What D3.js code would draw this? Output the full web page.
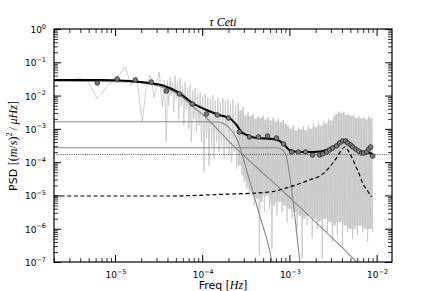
<!DOCTYPE html>
<html><head><meta charset="utf-8">
<script src="https://cdn.jsdelivr.net/npm/d3@7"></script>
<style>body{margin:0;background:#fff}</style>
</head><body>
<svg id="c" width="436" height="291"></svg>
<script>
// ---------- data ----------
const titleText = "τ Ceti";
const xMajor = [1e-5, 1e-4, 1e-3, 1e-2];
const xMajorExp = ["-5", "-4", "-3", "-2"];
const yMajor = [1, 1e-1, 1e-2, 1e-3, 1e-4, 1e-5, 1e-6, 1e-7];
const yMajorExp = ["0", "-1", "-2", "-3", "-4", "-5", "-6", "-7"];

// raw spectrum, low-frequency (sparse) part
const sparseFreq = [3.60e-6, 4.81e-6, 6.27e-6, 8.16e-6, 1.06e-5, 1.31e-5, 1.54e-5, 1.76e-5, 2.06e-5, 2.29e-5, 2.54e-5, 2.82e-5, 3.06e-5, 3.22e-5, 3.49e-5, 3.68e-5, 3.88e-5];
const sparsePSD = [3.37e-2, 2.94e-2, 7.89e-3, 1.94e-2, 3.37e-2, 7.22e-2, 1.94e-2, 3.61e-2, 1.72e-3, 1.94e-2, 4.15e-2, 8.46e-3, 2.94e-2, 5.11e-2, 4.54e-3, 2.94e-2, 4.03e-4];
// raw spectrum, dense part: alternating peaks / dips (log10 PSD) over this frequency span
const denseSpan = [4.0e-5, 9.0e-3];
const densePeakLog = [-1.55,-1.45,-1.62,-1.40,-1.58,-1.48,-1.70,-1.60,-1.75,-1.68,-1.85,-1.78,-1.95,-1.90,-2.00,-1.95,-2.05,-2.10,-1.98,-2.15,
  -2.05,-2.20,-2.08,-2.15,-2.10,-2.25,-2.12,-2.30,-2.20,-2.45,-2.35,-2.60,-2.50,-2.62,-2.55,-2.70,-2.62,-2.68,-2.60,-2.72,
  -2.64,-2.75,-2.66,-2.78,-2.70,-2.80,-2.74,-2.85,-2.90,-3.00,-2.88,-3.05,-2.95,-3.02,-2.92,-3.05,-2.90,-3.00,-2.85,-2.95,
  -2.80,-2.92,-2.78,-2.85,-2.70,-2.75,-2.62,-2.55,-2.48,-2.52,-2.50,-2.58,-2.55,-2.62,-2.58,-2.68,-2.62,-2.70,-2.65,-2.72,-2.62,-2.68];
const denseDipLog = [-2.3,-2.0,-2.5,-2.1,-2.7,-2.3,-2.9,-2.4,-3.0,-3.4,-2.7,-3.1,-2.9,-3.4,-4.3,-3.3,-4.1,-3.5,-3.9,-3.4,
  -3.7,-3.5,-3.9,-3.6,-3.8,-4.0,-3.7,-4.2,-4.1,-4.4,-4.6,-4.8,-5.0,-4.9,-5.3,-5.1,-6.8,-5.2,-5.5,-5.0,
  -5.4,-6.6,-5.3,-5.6,-5.2,-5.5,-5.3,-5.8,-5.4,-5.7,-5.5,-6.0,-5.6,-6.9,-5.7,-5.9,-5.6,-6.3,-5.7,-6.0,
  -5.8,-6.9,-5.7,-6.1,-5.8,-6.4,-5.9,-6.2,-5.8,-6.5,-5.9,-6.1,-6.0,-6.3,-6.0,-6.2,-5.9,-6.1,-6.0,-6.4,-6.0,-6.1];
const denseFilledFrom = 28; // index from which the trace is dense enough to look solid

// binned spectrum
const binFreq = [6.27e-6, 1.06e-5, 1.71e-5, 2.61e-5, 3.88e-5, 5.47e-5, 7.71e-5, 1.12e-4, 1.49e-4, 2.00e-4, 2.67e-4, 3.48e-4, 4.42e-4, 5.61e-4, 7.11e-4, 8.55e-4,
  1.06e-3, 1.27e-3, 1.53e-3, 1.84e-3, 2.22e-3, 2.40e-3, 2.67e-3, 2.89e-3, 3.12e-3, 3.47e-3, 3.76e-3, 4.07e-3, 4.41e-3, 4.65e-3, 5.03e-3, 5.31e-3, 5.74e-3, 6.21e-3, 6.73e-3, 7.10e-3, 7.68e-3, 8.10e-3, 8.54e-3, 9.0e-3];
const binPSD = [2.39e-2, 3.15e-2, 2.94e-2, 2.56e-2, 1.37e-2, 1.12e-2, 5.58e-3, 2.80e-3, 2.61e-3, 2.12e-3, 8.05e-4, 5.70e-4, 5.70e-4, 6.11e-4, 5.32e-4, 3.51e-4,
  2.02e-4, 2.02e-4, 2.02e-4, 1.64e-4, 1.64e-4, 1.76e-4, 2.02e-4, 2.32e-4, 2.66e-4, 3.06e-4, 3.77e-4, 4.32e-4, 4.32e-4, 3.77e-4, 3.28e-4, 2.85e-4, 2.48e-4, 2.16e-4, 1.88e-4, 1.88e-4, 2.02e-4, 2.48e-4, 2.85e-4, 1.53e-4];

// total fitted model
const totalFreq = [2.0e-6, 6.6e-6, 1.46e-5, 2.48e-5, 3.68e-5, 5.47e-5, 7.71e-5, 1.12e-4, 1.57e-4, 2.05e-4, 2.47e-4, 2.82e-4, 3.22e-4, 4.19e-4, 6.40e-4, 7.70e-4, 8.79e-4, 1.00e-3, 1.31e-3, 1.94e-3, 2.67e-3, 3.30e-3, 3.86e-3, 4.30e-3, 4.77e-3, 5.45e-3, 6.38e-3, 7.48e-3, 9.0e-3];
const totalPSD = [2.94e-2, 2.94e-2, 2.74e-2, 2.39e-2, 1.94e-2, 1.20e-2, 5.98e-3, 3.69e-3, 2.61e-3, 2.12e-3, 1.31e-3, 8.05e-4, 6.55e-4, 5.32e-4, 4.97e-4, 4.32e-4, 3.28e-4, 2.32e-4, 2.02e-4, 2.02e-4, 2.32e-4, 3.06e-4, 4.04e-4, 4.64e-4, 4.04e-4, 2.85e-4, 2.16e-4, 2.02e-4, 1.76e-4];

// granulation components
const harvey1Freq = [2.0e-6, 1.46e-5, 2.48e-5, 3.68e-5, 5.47e-5, 7.71e-5, 1.12e-4, 1.57e-4, 2.22e-4, 3.22e-4, 4.54e-4, 7.70e-4, 1.31e-3, 2.22e-3, 3.76e-3, 5.74e-3, 6.73e-3];
const harvey1PSD = [2.74e-2, 2.56e-2, 2.23e-2, 1.69e-2, 1.04e-2, 4.86e-3, 2.12e-3, 8.6e-4, 3.28e-4, 1.33e-4, 5.81e-5, 1.67e-5, 4.50e-6, 1.21e-6, 3.25e-7, 1.07e-7, 7.1e-8];
const harvey2Freq = [2.0e-6, 9.29e-5, 1.46e-4, 1.71e-4, 2.05e-4, 2.47e-4, 2.82e-4, 3.22e-4, 4.54e-4, 6.25e-4, 6.6e-4];
const harvey2PSD = [1.64e-3, 1.64e-3, 1.61e-3, 1.50e-3, 1.06e-3, 5.32e-4, 2.02e-4, 5.81e-5, 2.59e-6, 1.15e-7, 5e-8];
const harvey3Freq = [2.0e-6, 7.33e-4, 8.34e-4, 9.27e-4, 1.00e-3, 1.15e-3, 1.31e-3, 1.36e-3];
const harvey3PSD = [2.72e-4, 2.72e-4, 2.32e-4, 1.43e-4, 4.5e-5, 2.6e-6, 1.15e-7, 5e-8];
// white noise level
const whiteFreq = [2.0e-6, 1.5e-2];
const whitePSD = [1.7e-4, 1.7e-4];
// oscillation envelope
const oscFreq = [2.0e-6, 4.2e-5, 1.57e-4, 5.93e-4, 1.00e-3, 1.70e-3, 2.22e-3, 2.67e-3, 3.12e-3, 3.47e-3, 3.96e-3, 4.30e-3, 4.65e-3, 5.17e-3, 5.74e-3, 6.38e-3, 6.90e-3, 7.88e-3, 8.77e-3];
const oscPSD = [9.62e-6, 9.62e-6, 1.07e-5, 1.27e-5, 1.79e-5, 2.91e-5, 3.84e-5, 5.6e-5, 9.2e-5, 1.35e-4, 2.35e-4, 2.85e-4, 2.32e-4, 1.43e-4, 7.67e-5, 4.11e-5, 2.37e-5, 1.36e-5, 8.98e-6];

// ---------- drawing ----------
const L = 54, R = 392, T = 29, B = 262;
const svg = d3.select("#c");
const x = d3.scaleLog().domain([2e-6, 1.5e-2]).range([L, R]);
const y = d3.scaleLog().domain([1e-7, 1]).range([B, T]);

svg.append("defs").append("clipPath").attr("id", "clip")
  .append("rect").attr("x", L).attr("y", T).attr("width", R - L).attr("height", B - T);
const plot = svg.append("g").attr("clip-path", "url(#clip)");

const zip = (fs, ps) => fs.map((f, i) => [f, ps[i]]);
const line = d3.line().x(d => x(d[0])).y(d => y(d[1]));
const mono = d3.line().x(d => x(d[0])).y(d => y(d[1])).curve(d3.curveMonotoneX);

// raw spectrum
const spec = zip(sparseFreq, sparsePSD);
const n = densePeakLog.length, nv = 2 * n;
const lf0 = Math.log10(denseSpan[0]), lf1 = Math.log10(denseSpan[1]);
const fAt = j => Math.pow(10, lf0 + j * (lf1 - lf0) / (nv - 1));
for (let j = 0; j < nv; j++) {
  const v = j % 2 === 0 ? densePeakLog[j >> 1] : denseDipLog[j >> 1];
  spec.push([fAt(j), Math.pow(10, v)]);
}
// solid core of the dense part (isolated deep dips are left to the trace)
const core = [];
for (let i = denseFilledFrom; i < n; i++) {
  const lo = Math.max(denseDipLog[Math.max(i - 1, 0)], denseDipLog[i], denseDipLog[Math.min(i + 1, n - 1)]);
  core.push({f: fAt(2 * i), hi: Math.pow(10, densePeakLog[i]), lo: Math.pow(10, lo)});
  core.push({f: fAt(2 * i + 1), hi: Math.pow(10, Math.min(densePeakLog[i], densePeakLog[Math.min(i + 1, n - 1)])), lo: Math.pow(10, lo)});
}
plot.append("path")
  .attr("d", d3.area().x(d => x(d.f)).y0(d => y(d.lo)).y1(d => y(d.hi))(core))
  .attr("fill", "#d2d2d2").attr("stroke", "none");
plot.append("path").attr("d", line(spec)).attr("fill", "none")
  .attr("stroke", "#c8c8c8").attr("stroke-width", 0.9);

// components
[[harvey1Freq, harvey1PSD], [harvey2Freq, harvey2PSD], [harvey3Freq, harvey3PSD]].forEach(([f, p]) => {
  plot.append("path").attr("d", mono(zip(f, p))).attr("fill", "none")
    .attr("stroke", "#888888").attr("stroke-width", 1.1);
});
plot.append("path").attr("d", line(zip(whiteFreq, whitePSD))).attr("fill", "none")
  .attr("stroke", "#444").attr("stroke-width", 0.9).attr("stroke-dasharray", "1,1.2");
plot.append("path").attr("d", mono(zip(oscFreq, oscPSD))).attr("fill", "none")
  .attr("stroke", "#000").attr("stroke-width", 1.2).attr("stroke-dasharray", "4,2.6");

// total model
plot.append("path").attr("d", mono(zip(totalFreq, totalPSD))).attr("fill", "none")
  .attr("stroke", "#000").attr("stroke-width", 2);

// bins
plot.selectAll("circle.bin").data(zip(binFreq, binPSD)).enter().append("circle")
  .attr("cx", d => x(d[0])).attr("cy", d => y(d[1])).attr("r", 2.3)
  .attr("fill", "#7a7a7a").attr("stroke", "#2a2a2a").attr("stroke-width", 0.8);

// ---------- axes ----------
const xMinor = [], yMinor = [];
for (let e = -6; e <= -2; e++) for (let m = 2; m <= 9; m++) {
  const v = m * Math.pow(10, e);
  if (v >= 2e-6 * 0.999 && v <= 1.5e-2) xMinor.push(v);
}
for (let e = -7; e <= -1; e++) for (let m = 2; m <= 9; m++) yMinor.push(m * Math.pow(10, e));

function styleAxis(g, w) {
  g.select(".domain").remove();
  g.selectAll("line").attr("stroke", "#000").attr("stroke-width", w);
}
const axes = [
  [d3.axisBottom, x, `translate(0,${B})`, xMajor, xMinor],
  [d3.axisTop, x, `translate(0,${T})`, xMajor, xMinor],
  [d3.axisLeft, y, `translate(${L},0)`, yMajor, yMinor],
  [d3.axisRight, y, `translate(${R},0)`, yMajor, yMinor]
];
axes.forEach(([fn, sc, tr, maj, min]) => {
  svg.append("g").attr("transform", tr)
    .call(fn(sc).tickValues(min).tickSize(-4).tickSizeOuter(0).tickFormat(""))
    .call(g => styleAxis(g, 0.8));
  svg.append("g").attr("transform", tr)
    .call(fn(sc).tickValues(maj).tickSize(-7).tickSizeOuter(0).tickFormat(""))
    .call(g => styleAxis(g, 1));
});
svg.append("rect").attr("x", L).attr("y", T).attr("width", R - L).attr("height", B - T)
  .attr("fill", "none").attr("stroke", "#000").attr("stroke-width", 1.2);

const tickFont = "DejaVu Sans, sans-serif";
function powLabel(sel, exp) {
  sel.append("tspan").text("10");
  sel.append("tspan").attr("dy", -4.5).attr("font-size", 6.5).text(exp.replace("-", "\u2212"));
}
xMajor.forEach((v, i) => {
  const t = svg.append("text").attr("x", x(v) + 1).attr("y", 278)
    .attr("text-anchor", "middle").attr("font-family", tickFont).attr("font-size", 9).attr("fill", "#000");
  powLabel(t, xMajorExp[i]);
});
yMajor.forEach((v, i) => {
  const t = svg.append("text").attr("x", 46).attr("y", y(v) + 4)
    .attr("text-anchor", "end").attr("font-family", tickFont).attr("font-size", 9).attr("fill", "#000");
  powLabel(t, yMajorExp[i]);
});

// title
svg.append("text").attr("x", 223).attr("y", 26).attr("text-anchor", "middle")
  .attr("font-family", "Liberation Serif, serif").attr("font-style", "italic").attr("font-size", 12)
  .text(titleText);

// x label
const serif = "Liberation Serif, serif";
const xl = svg.append("text").attr("x", 223).attr("y", 289).attr("text-anchor", "middle")
  .attr("font-size", 11).attr("font-family", tickFont);
xl.append("tspan").text("Freq ");
xl.append("tspan").attr("font-family", serif).attr("font-size", 12).text("[");
xl.append("tspan").attr("font-family", serif).attr("font-size", 12).attr("font-style", "italic").text("Hz");
xl.append("tspan").attr("font-family", serif).attr("font-size", 12).text("]");

// y label
const yl = svg.append("text").attr("transform", "translate(17,146) rotate(-90)").attr("text-anchor", "middle")
  .attr("font-size", 11).attr("font-family", tickFont);
const ms = 12;
yl.append("tspan").text("PSD ");
yl.append("tspan").attr("font-family", serif).attr("font-size", ms).text("[(");
yl.append("tspan").attr("font-family", serif).attr("font-size", ms).attr("font-style", "italic").text("m");
yl.append("tspan").attr("font-family", serif).attr("font-size", ms).text("/");
yl.append("tspan").attr("font-family", serif).attr("font-size", ms).attr("font-style", "italic").text("s");
yl.append("tspan").attr("font-family", serif).attr("font-size", ms).text(")");
yl.append("tspan").attr("font-family", serif).attr("font-size", 8).attr("dy", -5).text("2");
yl.append("tspan").attr("font-family", serif).attr("font-size", ms).attr("dy", 5).text("\u2009/\u2009");
yl.append("tspan").attr("font-family", serif).attr("font-size", ms).attr("font-style", "italic").text("μHz");
yl.append("tspan").attr("font-family", serif).attr("font-size", ms).text("]");
</script>
</body></html>
